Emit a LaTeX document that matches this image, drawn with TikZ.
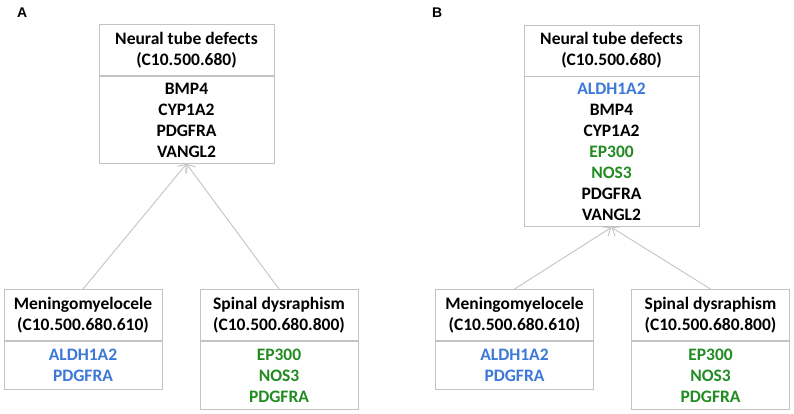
\documentclass[tikz,border=0pt]{standalone}
\usepackage{fontspec}
\setmainfont{Carlito}
\newfontfamily\panelfont{Liberation Sans}
\usetikzlibrary{arrows.meta}
\definecolor{meshblue}{RGB}{60,120,216}
\definecolor{meshgreen}{RGB}{34,139,34}
\definecolor{boxgray}{RGB}{195,195,195}

\begin{document}
\begin{tikzpicture}[x=1pt,y=1pt]
  \useasboundingbox (0,0) rectangle (794,-414);
  \tikzset{
    hdr/.style={rectangle,draw=boxgray,line width=0.9pt,fill=white,minimum height=51pt,align=center,inner sep=0pt},
    genes/.style={rectangle,draw=boxgray,line width=0.9pt,fill=white,align=center,inner sep=0pt},
    link/.style={draw=boxgray,line width=0.9pt,-{Straight Barb[length=7pt,width=11pt,line width=0.9pt]}},
  }
  \bfseries\fontsize{17.5}{21}\selectfont
  \def\term#1#2#3#4#5#6#7{
    \node[hdr,minimum width=#4] (#1) at (#2,#3){#5};
    \node[genes,minimum width=#4,minimum height=#6,anchor=north] (#1 genes) at (#1.south){#7};
  }

  %PANEL A
  \node[anchor=west,font=\panelfont\bfseries\fontsize{14}{16}\selectfont] (labelA) at (11,-13){A};

  \term{ntdA}{186.5}{-50}{175pt}{Neural tube defects\\(C10.500.680)}{87pt}{BMP4\\CYP1A2\\PDGFRA\\VANGL2}
  \term{meningA}{83}{-315}{158pt}{Meningomyelocele\\(C10.500.680.610)}{48pt}{\textcolor{meshblue}{ALDH1A2}\\\textcolor{meshblue}{PDGFRA}}
  \term{spinalA}{279}{-315}{158pt}{Spinal dysraphism\\(C10.500.680.800)}{68pt}{\textcolor{meshgreen}{EP300}\\\textcolor{meshgreen}{NOS3}\\\textcolor{meshgreen}{PDGFRA}}

  \draw[link] (meningA.north) -- (ntdA genes.south);
  \draw[link] (spinalA.north) -- (ntdA genes.south);

  %PANEL B
  \node[anchor=west,font=\panelfont\bfseries\fontsize{14}{16}\selectfont] (labelB) at (426,-13){B};

  \term{ntdB}{611.5}{-50.5}{175pt}{Neural tube defects\\(C10.500.680)}{150pt}{\textcolor{meshblue}{ALDH1A2}\\BMP4\\CYP1A2\\\textcolor{meshgreen}{EP300}\\\textcolor{meshgreen}{NOS3}\\PDGFRA\\VANGL2}
  \term{meningB}{514.5}{-315}{158pt}{Meningomyelocele\\(C10.500.680.610)}{48pt}{\textcolor{meshblue}{ALDH1A2}\\\textcolor{meshblue}{PDGFRA}}
  \term{spinalB}{710.5}{-315}{158pt}{Spinal dysraphism\\(C10.500.680.800)}{68pt}{\textcolor{meshgreen}{EP300}\\\textcolor{meshgreen}{NOS3}\\\textcolor{meshgreen}{PDGFRA}}

  \draw[link] (meningB.north) -- (ntdB genes.south);
  \draw[link] (spinalB.north) -- (ntdB genes.south);
\end{tikzpicture}
\end{document}
